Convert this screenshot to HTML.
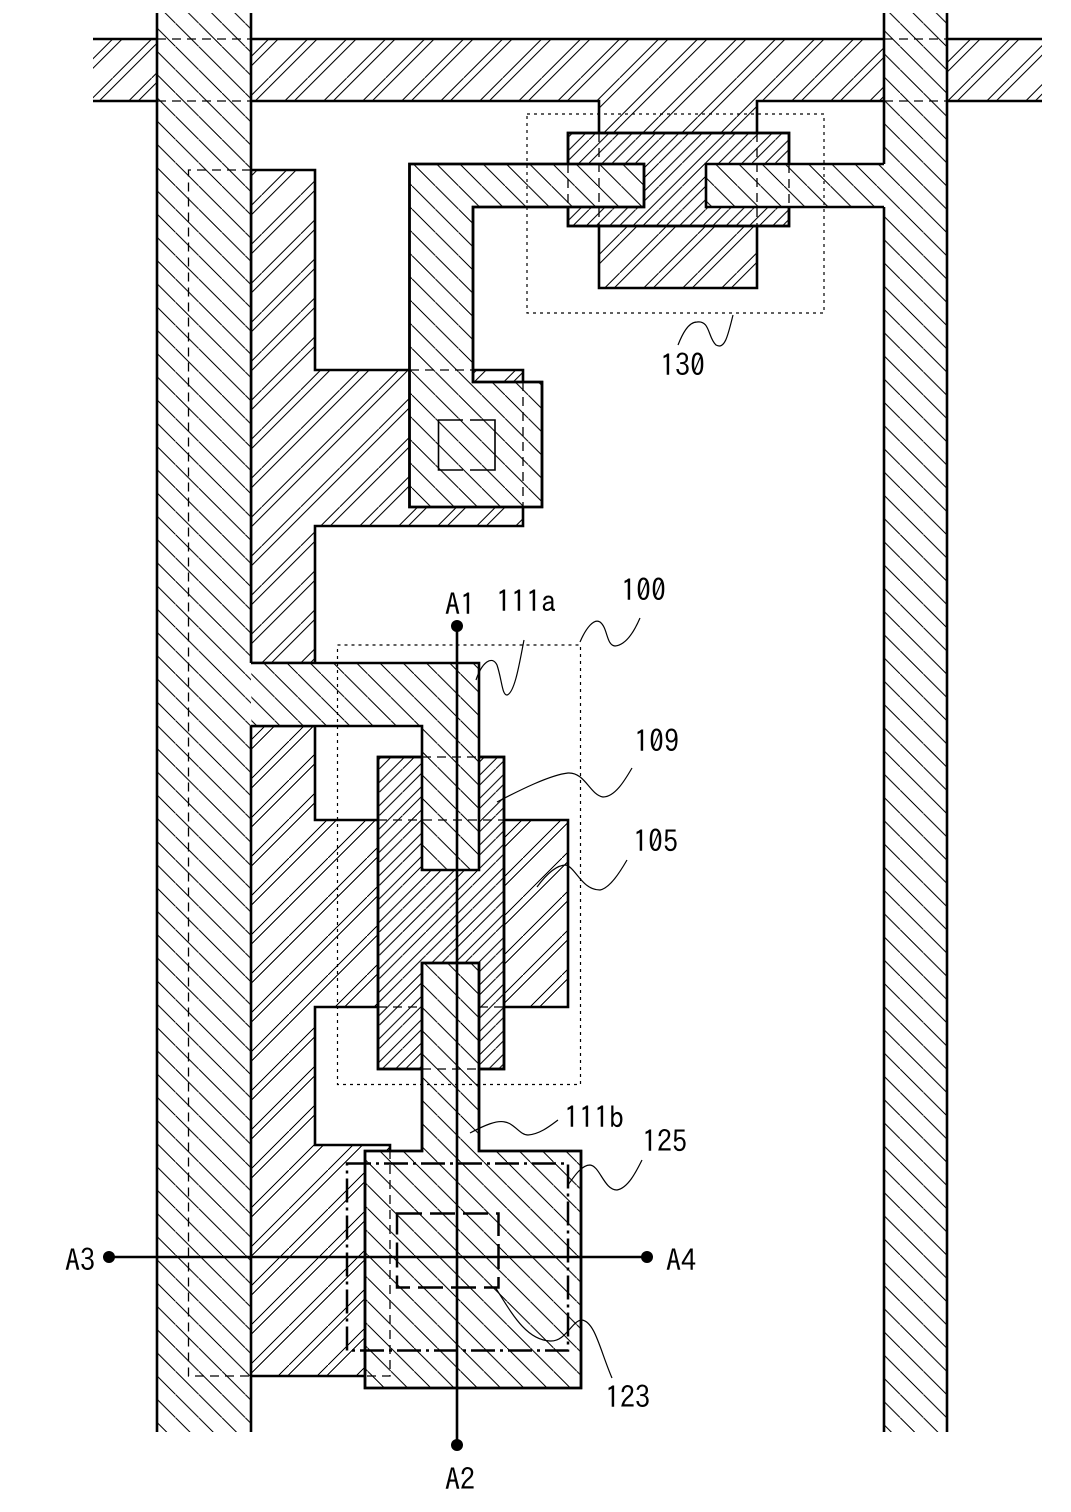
<!DOCTYPE html>
<html><head><meta charset="utf-8"><style>
html,body{margin:0;padding:0;background:#fff}
svg{display:block}
text{font-family:"IPAGothic","Liberation Sans",sans-serif;font-size:30px;fill:#000}
</style></head><body>
<svg width="1071" height="1512" viewBox="0 0 1071 1512" xmlns="http://www.w3.org/2000/svg">
<defs>
<pattern id="b1" patternUnits="userSpaceOnUse" x="12.8" y="0" width="23.24" height="23.24"><path d="M-1 -1L24.24 24.24" stroke="#000" stroke-width="1" shape-rendering="crispEdges"/></pattern>
<pattern id="b2" patternUnits="userSpaceOnUse" x="17" y="0" width="23.24" height="23.24"><path d="M-1 -1L24.24 24.24" stroke="#000" stroke-width="1" shape-rendering="crispEdges"/></pattern>
<pattern id="b3" patternUnits="userSpaceOnUse" x="19" y="0" width="23.24" height="23.24"><path d="M-1 -1L24.24 24.24" stroke="#000" stroke-width="1" shape-rendering="crispEdges"/></pattern>
<pattern id="f1" patternUnits="userSpaceOnUse" x="34.7" y="0" width="39" height="39"><path d="M40 -1L-1 40M10.6 -1L-1 10.6M40 8.6L8.6 40" stroke="#000" stroke-width="1" shape-rendering="crispEdges"/></pattern>
<pattern id="f2" patternUnits="userSpaceOnUse" x="27.7" y="0" width="39" height="39"><path d="M40 -1L-1 40M10.6 -1L-1 10.6M40 8.6L8.6 40" stroke="#000" stroke-width="1" shape-rendering="crispEdges"/></pattern>
<pattern id="f3" patternUnits="userSpaceOnUse" x="16" y="0" width="39" height="39"><path d="M40 -1L-1 40M10.6 -1L-1 10.6M40 8.6L8.6 40" stroke="#000" stroke-width="1" shape-rendering="crispEdges"/></pattern>
<pattern id="d" patternUnits="userSpaceOnUse" x="6.5" y="0" width="23.3" height="23.3"><path d="M24.3 -1L-1 24.3M14.3 -1L-1 14.3M24.3 12.3L12.3 24.3" stroke="#000" stroke-width="1" shape-rendering="crispEdges"/></pattern>
</defs>
<g stroke="#000" stroke-width="2.6" stroke-linejoin="miter">
<!-- gate band with stub -->
<path d="M93 39H1042V101H757V288H599V101H93Z" fill="url(#f1)" stroke="none"/>
<path d="M93 39H157M251 39H884M947 39H1042M93 101H157M251 101H599V288H757V101H884M947 101H1042" fill="none"/>
<!-- layer 109 top -->
<rect x="568" y="133" width="221" height="93" fill="#fff"/>
<rect x="568" y="133" width="221" height="93" fill="url(#d)"/>
<!-- right connection + right column -->
<path d="M706 164H884V207H706Z" fill="#fff" stroke="none"/>
<path d="M706 164H884V207H706Z" fill="url(#b2)" stroke="none"/>
<path d="M884 164H706V207H884" fill="none"/>
<rect x="884" y="13" width="63" height="1419" fill="#fff" stroke="none"/>
<rect x="884" y="13" width="63" height="1419" fill="url(#b2)" stroke="none"/>
<path d="M884 13V164M884 207V1432M947 13V1432" fill="none"/>
<!-- upper forward shape -->
<path d="M251 170H315V370H523V526H315V663H251Z" fill="url(#f2)"/>
<!-- upper backslash shape -->
<path d="M409.5 164H644V207H473V382H542V507H409.5Z" fill="#fff"/>
<path d="M409.5 164H644V207H473V382H542V507H409.5Z" fill="url(#b2)"/>
<!-- lower forward shape -->
<path d="M251 726H315V820H568V1007H315V1145H390V1376H251Z" fill="url(#f3)" stroke="none"/>
<path d="M251 726H315V820H568V1007H315V1145H390V1150M365 1376H251" fill="none"/>
<!-- 109 -->
<rect x="378" y="757" width="126" height="312" fill="#fff"/>
<rect x="378" y="757" width="126" height="312" fill="url(#d)"/>
<!-- left column -->
<rect x="157" y="13" width="94" height="1419" fill="#fff" stroke="none"/>
<rect x="157" y="13" width="94" height="1419" fill="url(#b1)" stroke="none"/>
<path d="M157 13V1432M251 13V663M251 726V1432" fill="none"/>
<!-- shape A -->
<path d="M251 663H479V870H422V726H251" fill="#fff" stroke="none"/>
<path d="M251 663H479V870H422V726H251" fill="url(#b3)"/>
<!-- drain -->
<path d="M422 963H479V1151H581V1388H365V1151H422Z" fill="#fff"/>
<path d="M422 963H479V1151H581V1388H365V1151H422Z" fill="url(#b3)"/>
</g>
<!-- thin dashed hidden edges -->
<g fill="none" stroke="#000" stroke-width="1.3" stroke-dasharray="9 6">
<path d="M157 39H251M157 101H251M884 39H947M884 101H947"/>
<path d="M251 170H188.5V1376H251"/>
<path d="M410 370H473M523 382V507"/>
<path d="M568 164V207M789 164V207M599 133V226M757 133V226"/>
<path d="M422 757H479M378 820H504M378 1007H422M479 1007H504M422 1069H479"/>
<path d="M390 1150V1376H365"/>
</g>
<g fill="none" stroke="#000" stroke-width="1.2" stroke-dasharray="3 4">
<rect x="337.5" y="645" width="243" height="439.5"/>
<rect x="527" y="114" width="297" height="199"/>
</g>
<path d="M463 420H438.5V470H463M470 470H495V420H470" fill="none" stroke="#000" stroke-width="1.6"/>
<g fill="none" stroke="#000" stroke-width="2.5">
<rect x="347" y="1163.5" width="221" height="187" stroke-dasharray="24 5 3 5"/>
<rect x="397" y="1213.5" width="101.5" height="74" stroke-dasharray="25 8"/>
</g>
<!-- section lines -->
<g stroke="#000" stroke-width="2.6">
<path d="M457 626V1445M109 1257H647" fill="none"/>
</g>
<circle cx="457" cy="626" r="6"/><circle cx="457" cy="1445" r="6"/><circle cx="109" cy="1257" r="6"/><circle cx="647" cy="1257" r="6"/>
<!-- leaders -->
<g fill="none" stroke="#000" stroke-width="1.2">
<path d="M733 315C728 335 725 350 716 345C708 338 710 320 697 322C688 322 682 335 678 345"/>
<path d="M476 680C482 662 492 655 497 665C502 680 502 695 507 695C515 693 520 660 524 640"/>
<path d="M580 642C586 628 594 618 600 622C608 628 606 645 615 646C626 645 634 632 640 618"/>
<path d="M497 802C520 790 550 775 568 773C585 772 590 795 603 797C615 797 625 780 632 768"/>
<path d="M537 887C548 872 558 865 566 865C576 868 582 890 600 890C610 888 620 872 627 860"/>
<path d="M470 1133C485 1125 497 1120 505 1122C515 1124 520 1135 528 1135C540 1134 550 1126 558 1120"/>
<path d="M568 1185C575 1175 582 1165 590 1165C600 1166 604 1190 617 1190C628 1188 636 1172 642 1160"/>
<path d="M495 1287C510 1310 525 1340 550 1341C566 1342 572 1320 582 1320C595 1322 600 1350 612 1378"/>
</g>
<text x="660" y="376">130</text>
<text x="621" y="601">100</text>
<text x="445" y="615">A1</text>
<text x="496" y="612">111a</text>
<text x="634" y="752">109</text>
<text x="633" y="852">105</text>
<text x="564" y="1128">111b</text>
<text x="642" y="1152">125</text>
<text x="605" y="1408">123</text>
<text x="445" y="1490">A2</text>
<text x="65" y="1271">A3</text>
<text x="666" y="1271">A4</text>
</svg>
</body></html>
